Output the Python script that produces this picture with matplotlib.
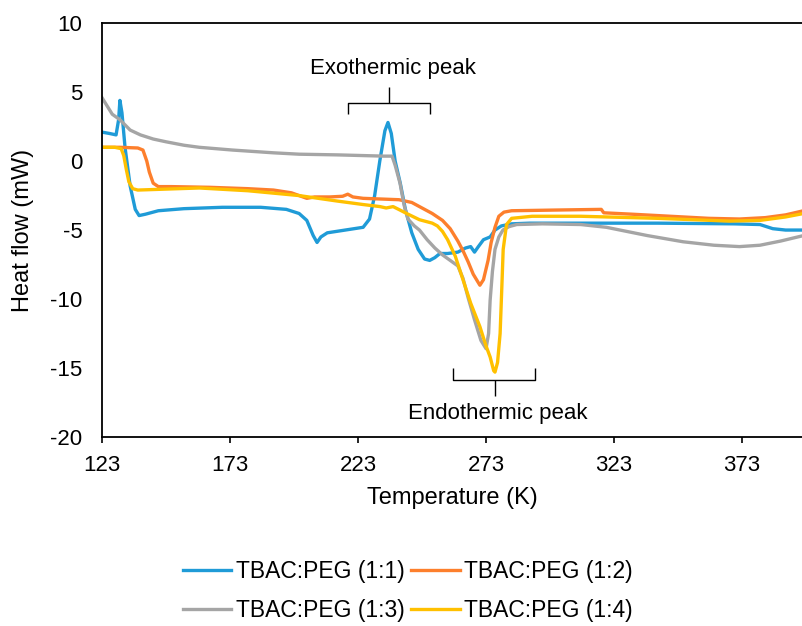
"""DSC heat-flow curves for TBAC:PEG mixtures."""

import matplotlib

matplotlib.use("Agg")
import matplotlib.pyplot as plt

plt.rcParams["font.family"] = ["Liberation Sans", "DejaVu Sans"]
plt.rcParams["axes.unicode_minus"] = False

# (temperature K, heat flow mW)
t_11 = [123, 126, 128.5, 129.5, 130, 130.8, 132, 134, 136, 137.5, 140, 145, 155, 170, 185,
        195, 200, 203, 205.5, 207, 208.5, 211, 218, 225, 227.5, 229.5, 231.5, 233.5, 234.7,
        236, 237.5, 239.5, 241.5, 244, 246.5, 249, 251, 253, 255, 258, 262, 265, 267, 268.5,
        270, 272, 274.6, 276.5, 279, 283, 290, 310, 340, 370, 380, 385, 390, 397]
hf_11 = [2.1, 2.0, 1.9, 3.0, 4.4, 3.5, 1.0, -1.8, -3.5, -3.95, -3.85, -3.6, -3.45, -3.35, -3.35,
         -3.5, -3.8, -4.3, -5.4, -5.9, -5.5, -5.2, -5.0, -4.8, -4.2, -2.5, 0.0, 2.2, 2.8,
         2.0, 0.0, -1.6, -3.5, -5.2, -6.4, -7.1, -7.2, -7.0, -6.7, -6.7, -6.6, -6.3, -6.2, -6.6,
         -6.2, -5.7, -5.5, -5.0, -4.7, -4.55, -4.5, -4.5, -4.5, -4.55, -4.6, -4.9, -5.0, -5.0]

t_12 = [123, 130, 137, 139, 140.5, 141.5, 143, 145, 150, 165, 180, 190, 197, 200, 203, 206,
        212, 217, 219, 221, 225, 232, 239, 244, 248, 252, 256, 259, 262, 264, 266, 268, 270.6,
        272, 273.8, 275, 276.5, 278, 280, 283, 300, 318, 319, 330, 345, 360, 372, 382, 390, 397]
hf_12 = [1.0, 1.0, 0.95, 0.8, 0.0, -0.8, -1.6, -1.85, -1.85, -1.9, -2.0, -2.1, -2.3, -2.5, -2.7, -2.6,
         -2.6, -2.55, -2.4, -2.6, -2.7, -2.75, -2.8, -3.0, -3.4, -3.8, -4.3, -4.9, -5.8, -6.5, -7.3, -8.2, -9.0,
         -8.6, -7.2, -5.9, -4.8, -4.0, -3.7, -3.6, -3.55, -3.5, -3.75, -3.85, -4.0, -4.15, -4.2, -4.1, -3.9, -3.6]

t_13 = [123, 125, 127, 130, 134, 138, 143, 148, 155, 161, 174, 190, 200, 215, 225, 233, 236.3,
        237.5, 239.4, 241, 242.5, 245, 247, 250, 253, 256, 259, 262, 264, 266, 268.5, 271, 273,
        274, 274.6, 275.5, 276.5, 278, 279.6, 282, 285, 295, 310, 320, 336, 350, 362, 372, 380,
        388, 397]
hf_13 = [4.6, 4.0, 3.4, 3.0, 2.25, 1.9, 1.6, 1.4, 1.15, 1.0, 0.8, 0.6, 0.5, 0.45, 0.4, 0.36, 0.36,
         -0.3, -1.6, -3.2, -4.2, -4.7, -5.0, -5.7, -6.3, -6.8, -7.2, -7.6, -8.5, -9.9, -11.5, -13.0, -13.6,
         -12.5, -10.1, -8.0, -6.4, -5.5, -5.0, -4.75, -4.6, -4.55, -4.6, -4.8, -5.4, -5.85, -6.1, -6.2, -6.1,
         -5.8, -5.4]

t_14 = [123, 128, 130.5, 131.5, 132.5, 133.5, 135, 137, 145, 161, 180, 200, 215, 225, 231.6, 234,
        236.7, 239.4, 242, 247, 252, 254, 256, 258, 261, 264, 267, 270.6, 273, 274.6, 276, 276.5,
        277.5, 278.5, 279.2, 279.7, 281, 283, 291, 310, 340, 368, 380, 390, 397]
hf_14 = [1.0, 1.0, 0.9, 0.4, -0.6, -1.5, -2.0, -2.1, -2.05, -1.95, -2.15, -2.5, -2.9, -3.15, -3.3, -3.4,
         -3.3, -3.55, -3.8, -4.25, -4.5, -4.7, -5.1, -5.7, -6.9, -8.6, -10.3, -12.0, -13.4, -14.2, -15.2, -15.3,
         -14.6, -12.5, -9.0, -6.4, -4.6, -4.15, -4.0, -4.0, -4.15, -4.35, -4.3, -4.05, -3.8]

labels = ["TBAC:PEG (1:1)", "TBAC:PEG (1:2)", "TBAC:PEG (1:3)", "TBAC:PEG (1:4)"]
colors = ["#1f9bd7", "#fd7f2c", "#a5a5a5", "#ffc000"]
x_ticks = [123, 173, 223, 273, 323, 373]
y_ticks = [-20, -15, -10, -5, 0, 5, 10]


def brace(ax, x0, x1, xm, y, depth, tip):
    """Square bracket with a centre tick: ends bend by depth, centre tick reaches tip."""
    kw = dict(color="black", lw=1.0, solid_capstyle="butt")
    ax.plot([x0, x0, x1, x1], [y + depth, y, y, y + depth], **kw)
    ax.plot([xm, xm], [y, tip], **kw)


def main() -> None:
    fig = plt.figure(figsize=(8.03, 6.26), dpi=100)
    ax = fig.add_axes([0.127, 0.302, 0.873, 0.661])

    series = [(t_11, hf_11), (t_12, hf_12), (t_13, hf_13), (t_14, hf_14)]
    lines = []
    for (t, hf), lab, c in zip(series, labels, colors):
        ln, = ax.plot(t, hf, color=c, lw=2.4, label=lab, solid_joinstyle="round")
        lines.append(ln)

    ax.set_xlim(123, 396.8)
    ax.set_ylim(-20, 10)
    ax.set_xticks(x_ticks)
    ax.set_yticks(y_ticks)
    ax.tick_params(axis="both", labelsize=16)
    ax.tick_params(axis="y", length=0, pad=14)
    ax.tick_params(axis="x", length=4, width=1.2, direction="out", pad=9)
    for s in ["left", "bottom", "top", "right"]:
        ax.spines[s].set_linewidth(1.3)
    ax.set_xlabel("Temperature (K)", fontsize=17, labelpad=8)
    ax.set_ylabel("Heat flow (mW)", fontsize=17, labelpad=12)

    brace(ax, 219, 251, 235, 4.2, -0.8, 5.4)
    ax.text(236.7, 6.7, "Exothermic peak", ha="center", va="center", fontsize=16)
    brace(ax, 260, 292, 276.5, -15.9, 0.9, -17.0)
    ax.text(277.7, -18.3, "Endothermic peak", ha="center", va="center", fontsize=16)

    # legend is filled column-wise, so order handles to read 1:1, 1:2 / 1:3, 1:4 by row
    order = [0, 2, 1, 3]
    fig.legend([lines[i] for i in order], [labels[i] for i in order],
               loc="lower center", bbox_to_anchor=(0.508, -0.027), ncol=2, frameon=False,
               fontsize=16.5, handlelength=2.1, handletextpad=0.2, columnspacing=0.3,
               labelspacing=0.7)

    fig.savefig("out.png", dpi=100)


if __name__ == "__main__":
    main()
